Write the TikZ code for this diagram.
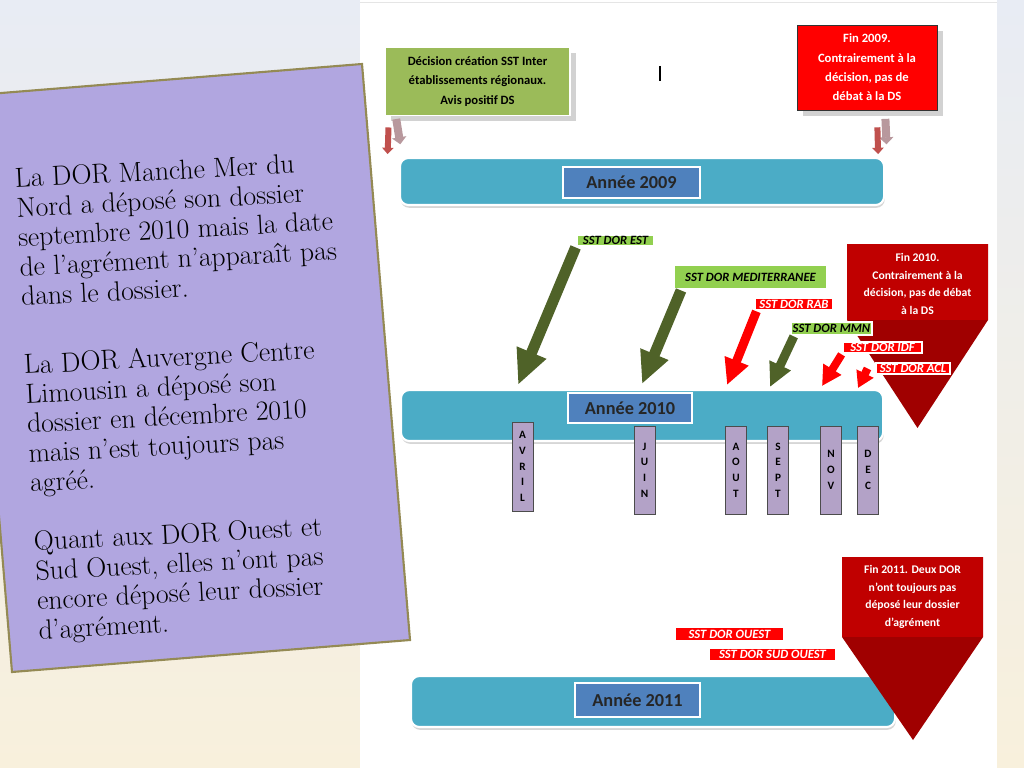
\documentclass[tikz,border=0pt]{standalone}
\usepackage{fontspec}
\newfontfamily\calib{Carlito}
\usetikzlibrary{arrows.meta,shadows}

\definecolor{bgtop}{HTML}{E8ECF4}
\definecolor{bgmid}{HTML}{EFEEE9}
\definecolor{bgbot}{HTML}{F8F0DC}
\definecolor{lav}{HTML}{B1A6E0}
\definecolor{lavline}{HTML}{948A54}
\definecolor{grnbox}{HTML}{9BBB59}
\definecolor{barblue}{HTML}{4BACC6}
\definecolor{labblue}{HTML}{4F81BD}
\definecolor{mauve}{HTML}{B3A2C7}
\definecolor{sstgreen}{HTML}{92D050}
\definecolor{arrowgreen}{HTML}{4F6228}
\definecolor{finred}{HTML}{C00000}
\definecolor{finredd}{HTML}{A00000}
\definecolor{arrowred}{HTML}{C0504D}
\definecolor{pinkshadow}{HTML}{B8989D}

\def\px{0.7113pt}

\begin{document}
\begin{tikzpicture}[x=0.025cm, y=-0.025cm, semithick,
  note/.style={anchor=north west, rotate=3, align=left, inner sep=0pt, text=black,
               font=\addfontfeatures{LetterSpace=2,FakeBold=0.4}\fontsize{19.7}{21}\selectfont},
  box/.style={align=center, inner sep=0pt, font=\calib\bfseries\fontsize{9}{13.7}\selectfont},
  calltext/.style={align=center, inner sep=0pt, text=white, font=\calib\bfseries\fontsize{8.3}{12.4}\selectfont},
  yearbar/.style={rounded corners=6pt, fill=barblue, draw=white, line width=1.5pt,
                  drop shadow={shadow xshift=0.5pt, shadow yshift=-2pt, fill=black!40, opacity=.4}},
  yearlab/.style={fill=labblue, draw=white, line width=1.5pt, text=black!85,
                  drop shadow={shadow xshift=1pt, shadow yshift=-1pt, fill=black!50, opacity=.4},
                  font=\calib\bfseries\fontsize{13}{15}\selectfont},
  month/.style={fill=mauve, draw=black!70, line width=0.6pt, minimum width=21*\px, minimum height=88*\px,
                inner sep=0pt, align=center, font=\calib\bfseries\fontsize{8}{11.2}\selectfont},
  sstg/.style={fill=sstgreen, draw=white, line width=2pt, inner sep=0pt, text=black,
               font=\calib\bfseries\itshape\fontsize{9}{10}\selectfont},
  sstr/.style={fill=red, draw=white, line width=2pt, inner sep=0pt, text=white,
               font=\calib\bfseries\itshape\fontsize{9}{10}\selectfont},
  grnarrow/.style n args={3}{arrowgreen, line width=#1, -{Triangle[width=#2, length=#3]}},
  redarrow/.style n args={3}{red, line width=#1, -{Triangle[width=#2, length=#3]}},
  downarrow/.style={arrowred, line width=6*\px, -{Triangle[width=8pt, length=4.5pt]}},
  shadowarrow/.style={pinkshadow, line width=8*\px, -{Triangle[width=10pt, length=5pt]}}]

\useasboundingbox (0,0) rectangle (1024,768);

% background
\fill[top color=bgtop, middle color=bgmid, bottom color=bgbot] (0,0) rectangle (1024,768);
\fill[white] (360,0) rectangle (997,768);
\draw[black!10] (360,2) -- (997,2);

% note panel
\draw[fill=lav, draw=lavline, line width=1.5pt] (-36,96) -- (362,64) -- (410,640) -- (12,672) -- cycle;
\node[note] (p1) at (14,168) {La DOR Manche Mer du\\Nord a déposé son dossier\\septembre 2010 mais la date\\de l’agrément n’apparaît pas\\dans le dossier.};
\node[note] (p2) at (23,354) {La DOR Auvergne Centre\\Limousin a déposé son\\dossier en décembre 2010\\mais n’est toujours pas\\agréé.};
\node[note] (p3) at (33,531) {Quant aux DOR Ouest et\\Sud Ouest, elles n’ont pas\\encore déposé leur dossier\\d’agrément.};

% 2009
\node[box, fill=grnbox, draw=white, line width=1pt, minimum width=185*\px, minimum height=68*\px,
      drop shadow={shadow xshift=4pt, shadow yshift=-4pt, fill=black!35}] (dec09) at (477.5,81.5)
      {Décision création SST Inter\\établissements régionaux.\\Avis positif DS};
\node[box, fill=red, draw=black!80, text=white, minimum width=140*\px, minimum height=85*\px,
      drop shadow={shadow xshift=4pt, shadow yshift=-4pt, fill=black!35}] (fin09) at (867,67.5)
      {Fin 2009.\\Contrairement à la\\décision, pas de\\débat à la DS};
\draw[black, line width=0.8pt] (660,66) -- (660,81);

\node[yearbar, minimum width=484*\px, minimum height=47*\px] (bar09) at (642,181.5) {};
\node[yearlab, minimum width=137*\px, minimum height=31*\px] (y09) at (631.5,182.5) {Année 2009};

\draw[shadowarrow] ([xshift=8.5pt,yshift=-2pt]dec09.south west) -- ([xshift=1pt,yshift=9pt]bar09.north west);
\draw[downarrow] ([xshift=3pt,yshift=-8pt]dec09.south west) -- ([xshift=-8pt,yshift=2pt]bar09.north west);
\draw[shadowarrow] ([xshift=-37pt,yshift=-6pt]fin09.south east) -- ([xshift=1pt,yshift=9pt]bar09.north east);
\draw[downarrow] ([xshift=-42.7pt,yshift=-12pt]fin09.south east) -- ([xshift=-5pt,yshift=2pt]bar09.north east);

% 2010
\fill[finredd] (847,244) -- (988,244) -- (988,320) -- (917.5,428) -- (847,320) -- cycle;
\fill[finred] (847,244) rectangle (988,320);
\node[calltext] (fin10) at (917.5,284) {Fin 2010.\\Contrairement à la\\décision, pas de débat\\à la DS};

\node[sstg, minimum width=77*\px, minimum height=11*\px] (est) at (615.5,240.5) {SST DOR EST};
\node[sstg, minimum width=153*\px, minimum height=24*\px] (med) at (750.5,277) {SST DOR MEDITERRANEE};
\node[sstr, minimum width=78*\px, minimum height=12*\px] (rab) at (794,304) {SST DOR RAB};
\node[sstg, minimum width=81*\px, minimum height=13*\px] (mmn) at (831.5,328.5) {SST DOR MMN};
\node[sstr, minimum width=79*\px, minimum height=11*\px] (idf) at (882.5,347.5) {SST DOR IDF};
\node[sstr, minimum width=74*\px, minimum height=11*\px] (acl) at (913,368.5) {SST DOR ACL};

\coordinate (tEst) at (518,385);
\coordinate (tMed) at (642,384);
\coordinate (tRab) at (727,385);
\coordinate (tMmn) at (770,387);
\coordinate (tIdf) at (822,386);
\coordinate (tAcl) at (858,388);

\draw[grnarrow={7.8pt}{21pt}{25pt}] (est.south west) -- (tEst);
\draw[grnarrow={7.8pt}{20pt}{23pt}] ([xshift=6pt]med.south west) -- (tMed);
\draw[redarrow={6.4pt}{17pt}{18.5pt}] ([xshift=2pt]rab.south west) -- (tRab);
\draw[grnarrow={6.4pt}{15.6pt}{17pt}] ([xshift=3pt]mmn.south west) -- (tMmn);
\draw[redarrow={5.7pt}{14.2pt}{14pt}] (idf.south west) -- (tIdf);
\draw[redarrow={5.7pt}{12.8pt}{11.4pt}] ([xshift=-5pt]acl.west) -- (tAcl);

\node[yearbar, minimum width=482*\px, minimum height=51*\px] (bar10) at (642,415.5) {};
\node[yearlab, minimum width=124*\px, minimum height=30*\px] (y10) at (630,408) {Année 2010};

\node[month, minimum height=89*\px] (avr) at (522.5,466.5) {A\\V\\R\\I\\L};
\node[month] (juin) at (644.5,470) {J\\U\\I\\N};
\node[month] (aout) at (736,470) {A\\O\\U\\T};
\node[month] (sept) at (778,470) {S\\E\\P\\T};
\node[month] (nov) at (831,470) {N\\O\\V};
\node[month] (dec) at (868,470) {D\\E\\C};

% 2011
\node[yearbar, minimum width=484*\px, minimum height=51*\px] (bar11) at (653,701.5) {};
\node[yearlab, minimum width=125*\px, minimum height=34*\px] (y11) at (637.5,700) {Année 2011};
\node[sstr, minimum width=109*\px, minimum height=14*\px] (ouest) at (729.5,634) {SST DOR OUEST};
\node[sstr, minimum width=127*\px, minimum height=13*\px] (sudouest) at (772.5,654.5) {SST DOR SUD OUEST};

\fill[finredd] (842,557) -- (983,557) -- (983,637) -- (913,740) -- (842,637) -- cycle;
\fill[finred] (842,557) rectangle (983,637);
\node[calltext] (fin11) at (912.5,597) {Fin 2011. Deux DOR\\n’ont toujours pas\\déposé leur dossier\\d’agrément};

\end{tikzpicture}
\end{document}
